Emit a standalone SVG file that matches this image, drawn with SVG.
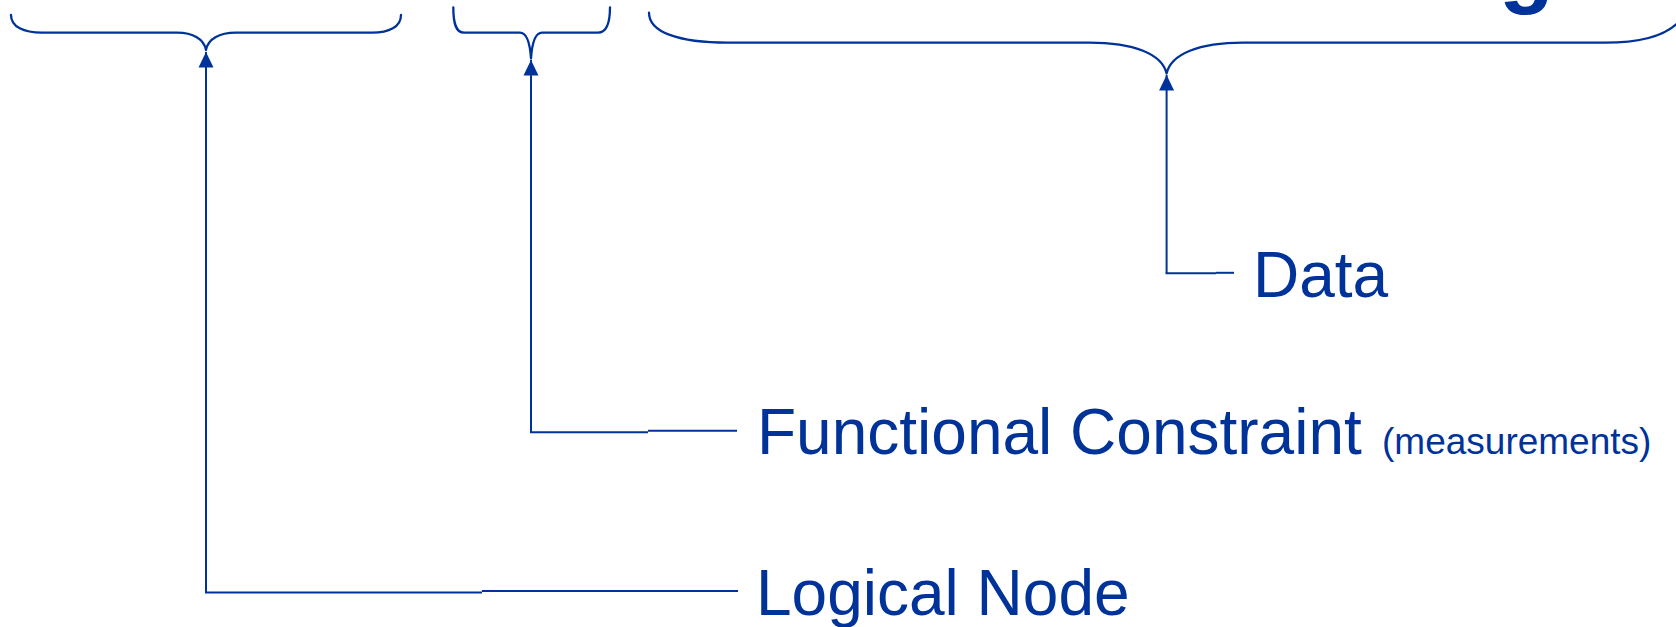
<svg xmlns="http://www.w3.org/2000/svg" width="1676" height="627" viewBox="0 0 1676 627">
<defs>
<style>
.brace{fill:none;stroke:#003399;stroke-width:2.3;stroke-linecap:round;stroke-linejoin:round}
.conn{fill:none;stroke:#003399;stroke-width:2}
.lbl{font-family:"Liberation Sans",Arial,sans-serif;font-size:64px;fill:#003399}
.small{font-size:37px}
.head{fill:#003399}
</style>
<marker id="arr" markerUnits="userSpaceOnUse" markerWidth="16" markerHeight="16" viewBox="0 0 16 16" refX="8" refY="0" orient="0">
<path d="M8 0 L15.5 15.5 L0.5 15.5 Z" fill="#003399"/>
</marker>
</defs>
<rect width="1676" height="627" fill="#ffffff"/>
<text x="1499" y="-4" font-family="Liberation Sans,Arial,sans-serif" font-weight="bold" font-size="90" fill="#003399">g</text>
<g id="brace-ln">
<path class="brace" d="M11 15 C11 27 24 32.7 42 32.7 L177 32.7 C193 32.7 204 39 206 50 C208 39 219 32.7 236 32.7 L372 32.7 C389 32.7 401 27 401 15"/>
</g>
<g id="brace-fc">
<path class="brace" d="M453.3 7.3 C453.3 24 456 32.7 464 32.7 L520 32.7 C527 32.7 530 44 531 58.5 C532 44 535 32.7 542 32.7 L598 32.7 C606 32.7 610 24 610 7.3"/>
</g>
<g id="brace-data">
<path class="brace" d="M649 12.7 C649 32 678 42.7 728 42.7 L1089 42.7 C1134 42.7 1162 54 1166.6 73.5 C1171 54 1199 42.7 1243 42.7 L1605 42.7 C1645 42.7 1670 34 1682 18"/>
</g>
<g id="connectors">
<path class="conn" d="M206 592.5 L206 52" marker-end="url(#arr)"/>
<polyline class="conn" points="205,592.5 482,592.5"/>
<polyline class="conn" points="482,591 738,591"/>
<path class="conn" d="M531 432.3 L531 60" marker-end="url(#arr)"/>
<polyline class="conn" points="530,432.3 648,432.3"/>
<polyline class="conn" points="648,430.7 737,430.7"/>
<path class="conn" d="M1166.6 273.3 L1166.6 75" marker-end="url(#arr)"/>
<polyline class="conn" points="1165.6,273.3 1216,273.3"/>
<polyline class="conn" points="1216,272.8 1234,272.8"/>
</g>
<g id="node-data">
<text class="lbl" x="1253" y="297">Data</text>
</g>
<g id="node-fc">
<text class="lbl" x="757" y="454">Functional Constraint <tspan class="small" x="1382">(measurements)</tspan></text>
</g>
<g id="node-ln">
<text class="lbl" x="756" y="615">Logical Node</text>
</g>
</svg>
